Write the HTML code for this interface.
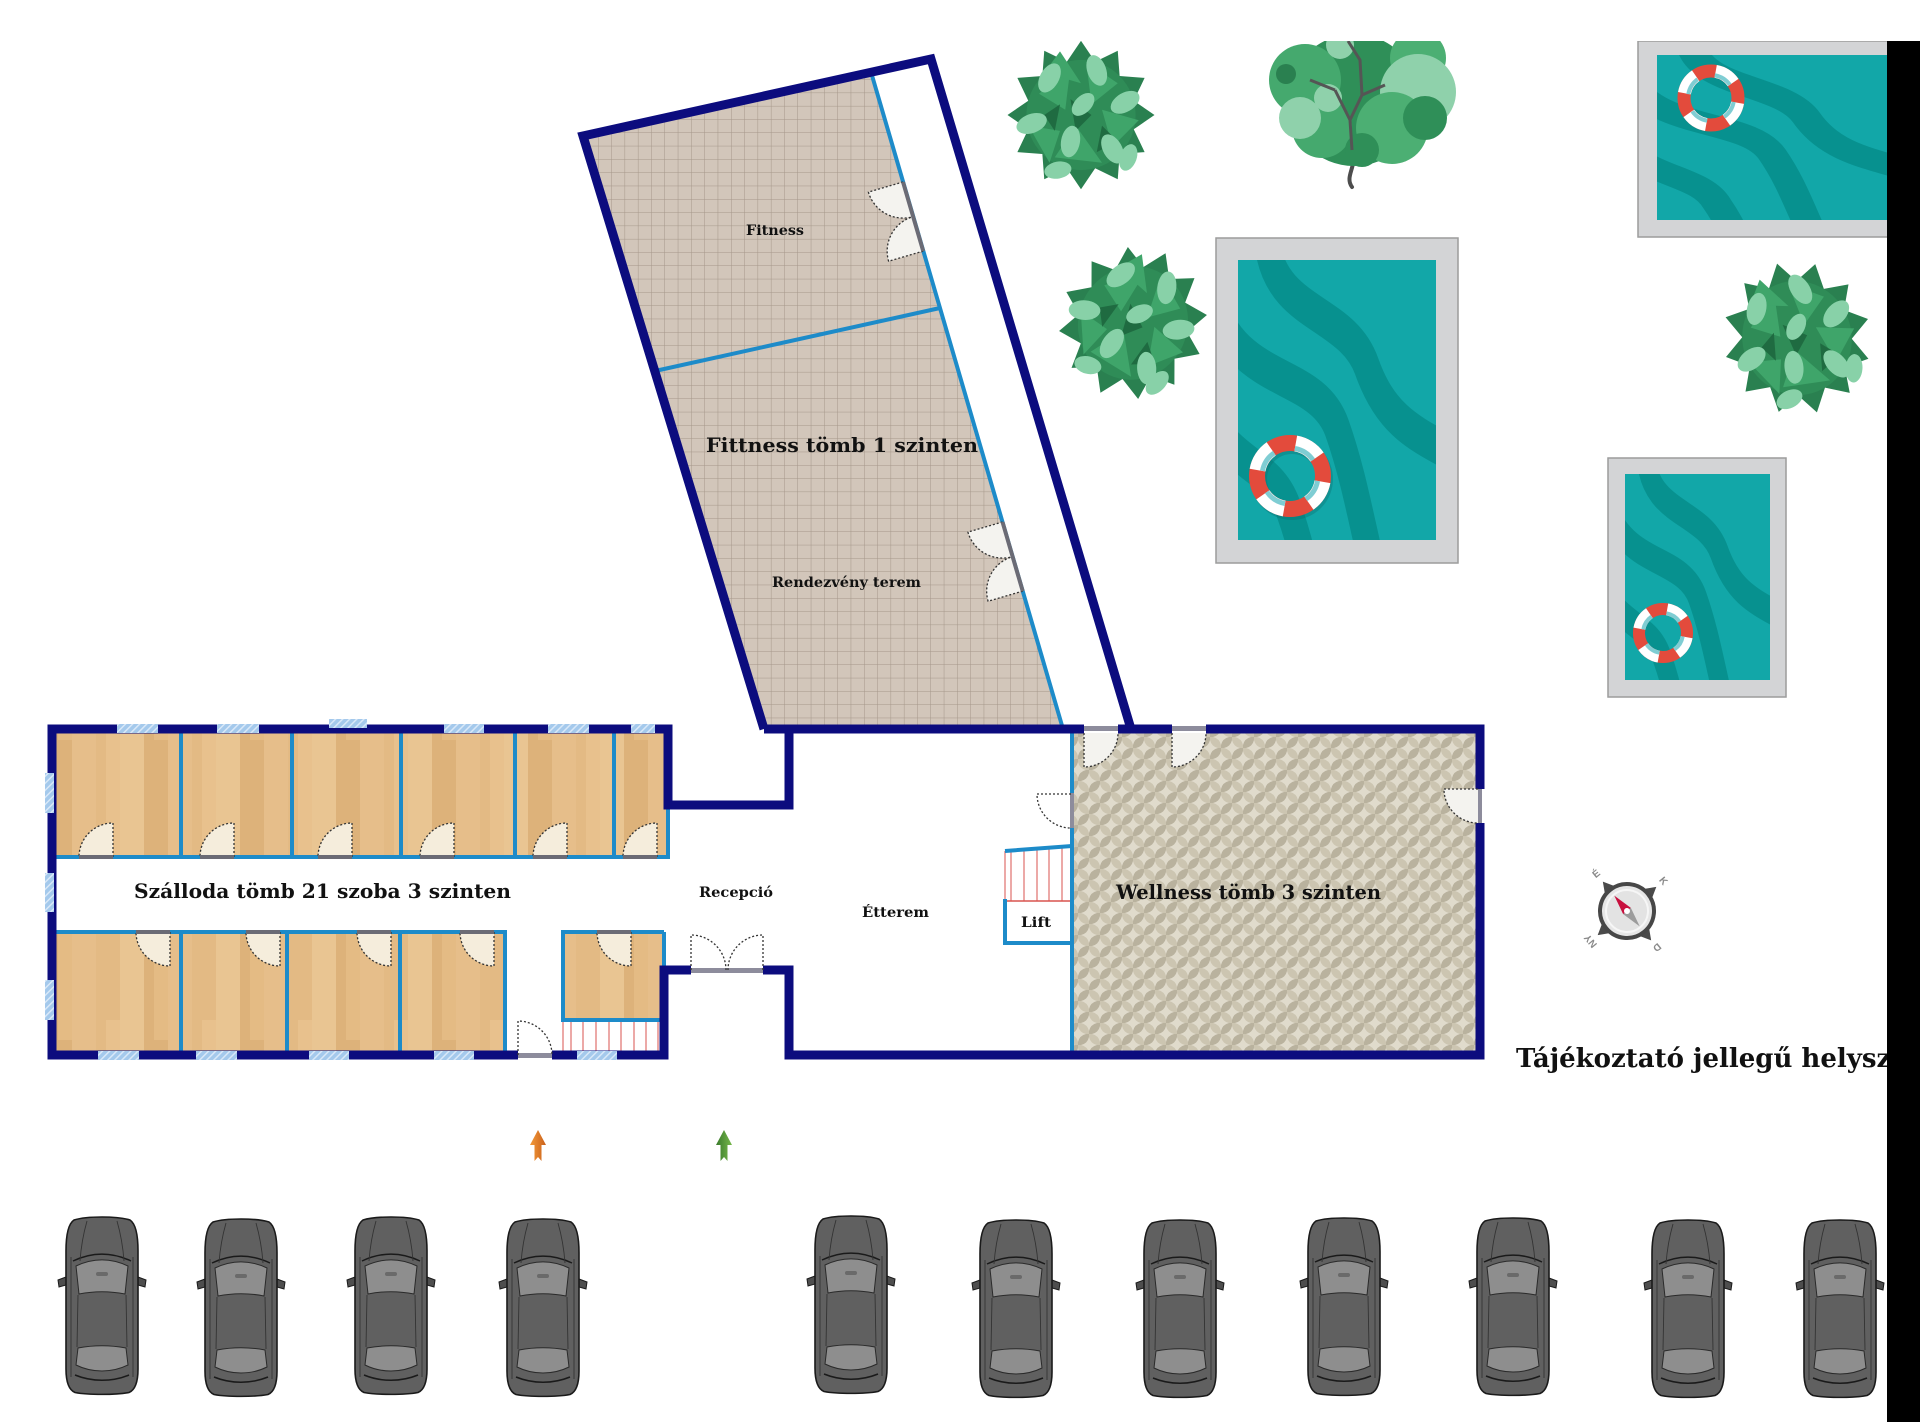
<!DOCTYPE html>
<html><head><meta charset="utf-8"><style>html,body{margin:0;padding:0;background:#fff;}svg{display:block;}</style></head>
<body>
<svg width="1920" height="1422" viewBox="0 0 1920 1422" xmlns="http://www.w3.org/2000/svg">
<defs>
<pattern id="tile" patternUnits="userSpaceOnUse" width="13.3" height="13.3"><rect width="13.3" height="13.3" fill="#d2c6ba"/><path d="M13.3,0 V13.3 H0" fill="none" stroke="#a5978a" stroke-width="1"/></pattern>
<pattern id="wood" patternUnits="userSpaceOnUse" width="96" height="300"><rect x="0" width="24" height="300" fill="#e3ba84"/><rect x="24" width="24" height="300" fill="#e9c592"/><rect x="48" width="24" height="300" fill="#ddb27a"/><rect x="72" width="24" height="300" fill="#e6be8a"/><rect x="10" y="120" width="14" height="180" fill="#e8c18d"/><rect x="58" y="0" width="14" height="140" fill="#e4bb84"/></pattern>
<pattern id="well" patternUnits="userSpaceOnUse" width="22" height="22"><rect width="22" height="22" fill="#ccc5b1"/><rect width="11" height="11" fill="#b9b29e"/><rect x="11" y="11" width="11" height="11" fill="#b9b29e"/><path d="M11,3 Q12.5,9.5 19,11 Q12.5,12.5 11,19 Q9.5,12.5 3,11 Q9.5,9.5 11,3Z" fill="#e0dbcc"/><path d="M0,-8 Q1.5,-1.5 8,0 Q1.5,1.5 0,8 Q-1.5,1.5 -8,0 Q-1.5,-1.5 0,-8Z" fill="#e0dbcc"/><path d="M22,-8 Q23.5,-1.5 30,0 Q23.5,1.5 22,8 Q20.5,1.5 14,0 Q20.5,-1.5 22,-8Z" fill="#e0dbcc"/><path d="M0,14 Q1.5,20.5 8,22 Q1.5,23.5 0,30 Q-1.5,23.5 -8,22 Q-1.5,20.5 0,14Z" fill="#e0dbcc"/><path d="M22,14 Q23.5,20.5 30,22 Q23.5,23.5 22,30 Q20.5,23.5 14,22 Q20.5,20.5 22,14Z" fill="#e0dbcc"/></pattern>
<pattern id="win" patternUnits="userSpaceOnUse" width="5" height="5" patternTransform="rotate(45)"><rect width="5" height="5" fill="#a4c9ec"/><rect width="1.5" height="5" fill="#d8e8f8"/></pattern>
<clipPath id="cp"><rect x="0" y="41" width="1887" height="1381"/></clipPath>
<clipPath id="wc"><rect x="0" y="0" width="100" height="100"/></clipPath>
<g id="waves" fill="none" stroke="#07918f" stroke-width="13">
<path d="M15,-5 C20,20 55,18 65,38 C75,58 90,62 110,70"/>
<path d="M-10,20 C5,45 40,40 50,60 C58,76 62,92 68,110"/>
<path d="M-10,62 C5,75 20,76 26,90 C30,98 32,104 34,110"/>
</g>
<g id="bush">
<polygon points="70,0 50.2,13.5 60.6,35 36.8,36.8 35,60.6 13.5,50.2 0,70 -13.5,50.2 -35,60.6 -36.8,36.8 -60.6,35 -50.2,13.5 -70,0 -50.2,-13.5 -60.6,-35 -36.8,-36.8 -35,-60.6 -13.5,-50.2 0,-70 13.5,-50.2 35,-60.6 36.8,-36.8 60.6,-35 50.2,-13.5" fill="#2a8050"/>
<circle r="52" fill="#2f8c57"/>
<g fill="#3fa56a"><polygon points="-40,-20 -10,-45 -15,-5"/><polygon points="5,-50 35,-30 10,-10"/><polygon points="20,-5 55,5 30,30"/><polygon points="-5,10 20,45 -25,40"/><polygon points="-50,10 -30,45 -20,15"/><polygon points="-20,-60 0,-30 -35,-40"/></g>
<g fill="#1f6b41"><polygon points="-10,-15 10,0 -5,15"/><polygon points="20,10 35,25 15,35"/><polygon points="-35,0 -20,-10 -25,15"/></g>
<g fill="#88d1a8"><ellipse cx="-30" cy="-35" rx="9" ry="15" transform="rotate(30 -30 -35)"/><ellipse cx="15" cy="-42" rx="9" ry="15" transform="rotate(-20 15 -42)"/><ellipse cx="42" cy="-12" rx="9" ry="15" transform="rotate(60 42 -12)"/><ellipse cx="30" cy="32" rx="9" ry="15" transform="rotate(-30 30 32)"/><ellipse cx="-10" cy="25" rx="9" ry="15" transform="rotate(10 -10 25)"/><ellipse cx="-47" cy="8" rx="9" ry="15" transform="rotate(70 -47 8)"/><ellipse cx="2" cy="-10" rx="8" ry="13" transform="rotate(45 2 -10)"/><ellipse cx="-22" cy="52" rx="8" ry="13" transform="rotate(80 -22 52)"/><ellipse cx="45" cy="40" rx="8" ry="13" transform="rotate(20 45 40)"/></g>
</g>
<g id="car">
<path d="M-36,60 L-44,63 L-43,70 L-36,68Z M36,60 L44,63 L43,70 L36,68Z" fill="#4e4e4e" stroke="#1b1b1b" stroke-width="1"/>
<path d="M-28,3 C-15,-1 15,-1 28,3 C34,7 36,18 36,34 L36,152 C36,166 33,173 27,175.5 C14,178 -14,178 -27,175.5 C-33,173 -36,166 -36,152 L-36,34 C-36,18 -34,7 -28,3Z" fill="#606060" stroke="#1a1a1a" stroke-width="1.6"/>
<path d="M-26,49 C-9,41 9,41 26,49 L23,77 C8,74 -8,74 -23,77Z" fill="#8e8e8e" stroke="#2a2a2a" stroke-width="1"/>
<path d="M-24,131 C-8,128 8,128 24,131 L26,148 C10,156 -10,156 -26,148Z" fill="#8e8e8e" stroke="#2a2a2a" stroke-width="1"/>
<path d="M-29,44 C-10,35 10,35 29,44" fill="none" stroke="#1a1a1a" stroke-width="1.5"/>
<path d="M-27,158 C-10,165 10,165 27,158" fill="none" stroke="#1a1a1a" stroke-width="1.5"/>
<path d="M-15,4 C-19,18 -21,30 -22,44 M15,4 C19,18 21,30 22,44 M-24,78 L-25,130 M24,78 L25,130 M-31,40 L-31,160 M31,40 L31,160" stroke="#333" stroke-width="0.9" fill="none"/>
<rect x="-6" y="55" width="12" height="4" rx="2" fill="#6a6a6a"/>
</g>
<linearGradient id="og" x1="0" x2="1"><stop offset="0" stop-color="#f39a3a"/><stop offset="1" stop-color="#c9601a"/></linearGradient>
<linearGradient id="gg" x1="0" x2="1"><stop offset="0" stop-color="#3a7a2c"/><stop offset="1" stop-color="#76b84a"/></linearGradient>
</defs>

<rect width="1920" height="1422" fill="#fff"/>
<g clip-path="url(#cp)">

<!-- trees -->
<use href="#bush" transform="translate(1081,115) scale(1.05,1.06)"/>
<use href="#bush" transform="translate(1133,323) rotate(25) scale(1.05,1.1)"/>
<use href="#bush" transform="translate(1797,338) rotate(-15) scale(1.05,1.1)"/>
<g>
<path d="M1352,187 C1344,176 1358,166 1352,150" stroke="#4d4d4d" stroke-width="4" fill="none" stroke-linecap="round"/>
<circle cx="1354" cy="100" r="66" fill="#2f8f58"/>
<circle cx="1305" cy="80" r="36" fill="#45a96e"/>
<circle cx="1418" cy="58" r="28" fill="#4caf73"/>
<circle cx="1418" cy="92" r="38" fill="#8fd1ab"/>
<circle cx="1322" cy="128" r="30" fill="#45a96e"/>
<circle cx="1392" cy="128" r="36" fill="#4caf73"/>
<circle cx="1300" cy="118" r="21" fill="#8fd1ab"/>
<circle cx="1425" cy="118" r="22" fill="#2f8f58"/>
<circle cx="1362" cy="150" r="17" fill="#2f8f58"/>
<circle cx="1328" cy="98" r="14" fill="#8fd1ab"/>
<circle cx="1286" cy="74" r="10" fill="#2a8050"/>
<circle cx="1340" cy="45" r="14" fill="#8fd1ab"/>
<path d="M1352,150 L1350,120 L1335,90 M1350,120 L1362,95 L1360,60 L1348,41 M1362,95 L1385,85 M1335,90 L1310,80" stroke="#555" stroke-width="3" fill="none"/>
</g>

<!-- pools -->
<rect x="1216" y="238" width="242" height="325" fill="#d3d4d6" stroke="#9c9c9c" stroke-width="1.5"/>
<g transform="translate(1238,260) scale(1.98,2.8)" clip-path="url(#wc)"><rect width="100" height="100" fill="#12a7a8"/><use href="#waves"/></g>
<rect x="1638" y="41" width="260" height="196" fill="#d3d4d6" stroke="#9c9c9c" stroke-width="1.5"/>
<g transform="translate(1657,55) scale(2.3,1.65)" clip-path="url(#wc)"><rect width="100" height="100" fill="#12a7a8"/><use href="#waves"/></g>
<rect x="1608" y="458" width="178" height="239" fill="#d3d4d6" stroke="#9c9c9c" stroke-width="1.5"/>
<g transform="translate(1625,474) scale(1.45,2.06)" clip-path="url(#wc)"><rect width="100" height="100" fill="#12a7a8"/><use href="#waves"/></g>

<!-- life rings -->
<g>
<circle cx="1292" cy="479" r="33" fill="none" stroke="#0b6e6e" stroke-opacity="0.35" stroke-width="16"/>
<circle cx="1290" cy="476" r="33" fill="none" stroke="#e34b3c" stroke-width="16"/>
<circle cx="1290" cy="476" r="33" fill="none" stroke="#fff" stroke-width="16" stroke-dasharray="25.9 25.9" transform="rotate(-80 1290 476)"/>
<circle cx="1290" cy="476" r="28" fill="none" stroke="#7fcdd3" stroke-width="5" stroke-dasharray="22 22" transform="rotate(-80 1290 476)"/>
<circle cx="1711" cy="98" r="27" fill="none" stroke="#e34b3c" stroke-width="13"/>
<circle cx="1711" cy="98" r="27" fill="none" stroke="#fff" stroke-width="13" stroke-dasharray="21.2 21.2" transform="rotate(-80 1711 98)"/>
<circle cx="1711" cy="98" r="23" fill="none" stroke="#7fcdd3" stroke-width="4" stroke-dasharray="18 18" transform="rotate(-80 1711 98)"/>
<circle cx="1663" cy="633" r="24" fill="none" stroke="#e34b3c" stroke-width="12"/>
<circle cx="1663" cy="633" r="24" fill="none" stroke="#fff" stroke-width="12" stroke-dasharray="18.85 18.85" transform="rotate(-80 1663 633)"/>
<circle cx="1663" cy="633" r="20" fill="none" stroke="#7fcdd3" stroke-width="4" stroke-dasharray="15.7 15.7" transform="rotate(-80 1663 633)"/>
</g>

<!-- floors -->
<polygon points="583,136 871,72 1063,729 764,729" fill="url(#tile)"/>
<rect x="52" y="729" width="616" height="130" fill="url(#wood)"/>
<rect x="52" y="932" width="453" height="123" fill="url(#wood)"/>
<rect x="563" y="932" width="101" height="88" fill="url(#wood)"/>
<rect x="1072" y="729" width="408" height="326" fill="url(#well)"/>

<!-- stairs -->
<g stroke="#d9534f" stroke-width="1">
<path d="M571,1020 V1052 M583,1020 V1052 M596,1020 V1052 M609,1020 V1052 M621,1020 V1052 M634,1020 V1052 M646,1020 V1052 M658,1020 V1052 M563,1020 V1052"/>
<path d="M1011,850 V901 M1024,849 V901 M1037,849 V901 M1049,848 V901 M1062,848 V901 M1005,851 V901"/>
<path d="M1005,901 H1071" stroke-width="1.5"/>
</g>

<!-- inner blue walls -->
<g stroke="#1d8bc9" stroke-width="4" fill="none">
<path d="M52,857 H668 M668,805 V859"/>
<path d="M181,729 V857 M292,729 V857 M401,729 V857 M515,729 V857 M614,729 V857"/>
<path d="M52,932 H505 V1055 M181,932 V1055 M287,932 V1055 M400,932 V1055"/>
<path d="M664,932 H563 V1020 H662 M664,932 V970"/>
<path d="M1072,729 V1055"/>
<path d="M871,72 L1063,729"/>
<path d="M655,371 L940,308"/>
<path d="M1005,851 L1072,846 M1005,899 V943 H1072"/>
</g>

<!-- navy walls -->
<g stroke="#0c0c7e" stroke-width="9" fill="none" stroke-linejoin="miter">
<path d="M764,729 H1480 V1055 H789 V970 H664 V1055 H52 V729 H668 V805 H789 V729"/>
<path d="M764,729 L583,136 L931,59 L1131,729"/>
</g>

<!-- windows -->
<g fill="url(#win)">
<rect x="117" y="724" width="41" height="9"/><rect x="217" y="724" width="42" height="9"/><rect x="329" y="719" width="38" height="9"/><rect x="444" y="724" width="40" height="9"/><rect x="548" y="724" width="41" height="9"/><rect x="631" y="724" width="24" height="9"/>
<rect x="45" y="773" width="9" height="40"/><rect x="45" y="873" width="9" height="39"/><rect x="45" y="980" width="9" height="40"/>
<rect x="98" y="1051" width="41" height="9"/><rect x="196" y="1051" width="41" height="9"/><rect x="309" y="1051" width="40" height="9"/><rect x="434" y="1051" width="40" height="9"/><rect x="577" y="1051" width="40" height="9"/>
</g>

<!-- wall openings -->
<g fill="#fff">
<rect x="518" y="1050" width="34" height="11"/>
<rect x="691" y="965" width="72" height="11"/>
<rect x="1084" y="723" width="34" height="11"/>
<rect x="1172" y="723" width="34" height="11"/>
<rect x="1475" y="789" width="11" height="34"/>
</g>
<g fill="#8d8c9c">
<rect x="518" y="1053" width="34" height="5"/>
<rect x="691" y="968" width="72" height="5"/>
<rect x="1084" y="726" width="34" height="5"/>
<rect x="1172" y="726" width="34" height="5"/>
<rect x="1477" y="789" width="5" height="34"/>
<rect x="1070" y="793" width="4" height="35"/>
</g>

<!-- doors -->
<g fill="#f5eddc">
<path d="M113,857 L113,823 A34,34 0 0 0 79,857Z"/><path d="M234,857 L234,823 A34,34 0 0 0 200,857Z"/><path d="M352,857 L352,823 A34,34 0 0 0 318,857Z"/><path d="M454,857 L454,823 A34,34 0 0 0 420,857Z"/><path d="M567,857 L567,823 A34,34 0 0 0 533,857Z"/><path d="M657,857 L657,823 A34,34 0 0 0 623,857Z"/>
<path d="M170,932 L170,966 A34,34 0 0 1 136,932Z"/><path d="M280,932 L280,966 A34,34 0 0 1 246,932Z"/><path d="M391,932 L391,966 A34,34 0 0 1 357,932Z"/><path d="M494,932 L494,966 A34,34 0 0 1 460,932Z"/><path d="M631,932 L631,966 A34,34 0 0 1 597,932Z"/>
</g>
<g fill="#f4f3ef">
<path d="M1084,733 L1084,767 A34,34 0 0 0 1118,733Z"/><path d="M1172,733 L1172,767 A34,34 0 0 0 1206,733Z"/>
<path d="M1478,789 L1444,789 A34,34 0 0 0 1478,823Z"/>
<path d="M903,182 L868.4,192.1 A36,36 0 0 0 913.1,216.6Z"/><path d="M923.2,251.1 L888.6,261.2 A36,36 0 0 1 913.1,216.6Z"/>
<path d="M1002.5,522 L967.9,532.1 A36,36 0 0 0 1012.6,556.6Z"/><path d="M1022.7,591.1 L988.1,601.2 A36,36 0 0 1 1012.6,556.6Z"/>
</g>
<g fill="none" stroke="#333" stroke-width="1.3" stroke-dasharray="2 2">
<path d="M113,857 L113,823 A34,34 0 0 0 79,857"/><path d="M234,857 L234,823 A34,34 0 0 0 200,857"/><path d="M352,857 L352,823 A34,34 0 0 0 318,857"/><path d="M454,857 L454,823 A34,34 0 0 0 420,857"/><path d="M567,857 L567,823 A34,34 0 0 0 533,857"/><path d="M657,857 L657,823 A34,34 0 0 0 623,857"/>
<path d="M170,932 L170,966 A34,34 0 0 1 136,932"/><path d="M280,932 L280,966 A34,34 0 0 1 246,932"/><path d="M391,932 L391,966 A34,34 0 0 1 357,932"/><path d="M494,932 L494,966 A34,34 0 0 1 460,932"/><path d="M631,932 L631,966 A34,34 0 0 1 597,932"/>
<path d="M1084,733 L1084,767 A34,34 0 0 0 1118,733"/><path d="M1172,733 L1172,767 A34,34 0 0 0 1206,733"/>
<path d="M1071,794 L1037,794 A34,34 0 0 0 1071,828"/>
<path d="M1478,789 L1444,789 A34,34 0 0 0 1478,823"/>
<path d="M518,1055 L518,1021 A34,34 0 0 1 552,1055"/>
<path d="M691,970 L691,935 A35,35 0 0 1 726,970"/><path d="M763,970 L763,935 A35,35 0 0 0 728,970"/>
<path d="M903,182 L868.4,192.1 A36,36 0 0 0 913.1,216.6"/><path d="M923.2,251.1 L888.6,261.2 A36,36 0 0 1 913.1,216.6"/>
<path d="M1002.5,522 L967.9,532.1 A36,36 0 0 0 1012.6,556.6"/><path d="M1022.7,591.1 L988.1,601.2 A36,36 0 0 1 1012.6,556.6"/>
</g>
<g stroke="#6b6b75" stroke-width="4">
<path d="M79,857 H113 M200,857 H234 M318,857 H352 M420,857 H454 M533,857 H567 M623,857 H657"/>
<path d="M136,932 H170 M246,932 H280 M357,932 H391 M460,932 H494 M597,932 H631"/>
<path d="M903,182 L923.2,251.1 M1002.5,522 L1022.7,591.1"/>
</g>

<!-- labels -->
<g font-family="'DejaVu Serif', 'Liberation Serif', serif" font-weight="bold" fill="#111">
<text x="134" y="898" font-size="20" textLength="377" lengthAdjust="spacingAndGlyphs">Szálloda tömb 21 szoba 3 szinten</text>
<text x="1116" y="899" font-size="20" textLength="265" lengthAdjust="spacingAndGlyphs">Wellness tömb 3 szinten</text>
<text x="706" y="452" font-size="20" textLength="272" lengthAdjust="spacingAndGlyphs">Fittness tömb 1 szinten</text>
<text x="746" y="235" font-size="14" textLength="58" lengthAdjust="spacingAndGlyphs">Fitness</text>
<text x="772" y="587" font-size="14" textLength="149" lengthAdjust="spacingAndGlyphs">Rendezvény terem</text>
<text x="699" y="897" font-size="14" textLength="74" lengthAdjust="spacingAndGlyphs">Recepció</text>
<text x="862" y="917" font-size="14" textLength="67" lengthAdjust="spacingAndGlyphs">Étterem</text>
<text x="1021" y="927" font-size="14" textLength="30" lengthAdjust="spacingAndGlyphs">Lift</text>
<text x="1516" y="1067" font-size="26">Tájékoztató jellegű helyszínrajz</text>
</g>

<!-- compass -->
<g transform="rotate(-39.5 1627 911)">
<g fill="#4a4a4a">
<polygon points="1627,873 1619,887 1635,887"/><polygon points="1665,911 1651,903 1651,919"/><polygon points="1627,949 1619,935 1635,935"/><polygon points="1589,911 1603,903 1603,919"/>
</g>
<circle cx="1627" cy="911" r="27" fill="#e6e6e6" stroke="#474747" stroke-width="4"/>
<circle cx="1627" cy="911" r="21" fill="#e3e3e3" stroke="#f6f6f6" stroke-width="2"/>
<polygon points="1627,891 1622,911 1632,911" fill="#c8103e"/>
<polygon points="1627,931 1622,911 1632,911" fill="#9c9c9c"/>
<circle cx="1627" cy="911" r="3" fill="#fff"/>
<g font-family="'Liberation Sans', sans-serif" font-weight="bold" font-size="10" fill="#8a8a8a" text-anchor="middle">
<text x="1627" y="866">É</text>
<text x="1674" y="914" transform="rotate(90 1674 911)">K</text>
<text x="1627" y="963" transform="rotate(180 1627 959)">D</text>
<text x="1580" y="914" transform="rotate(-90 1580 911)">NY</text>
</g>
</g>

<!-- arrows -->
<polygon points="538,1130 546,1145 541.5,1145 541.5,1161 538,1157 534.5,1161 534.5,1145 530,1145" fill="url(#og)"/>
<polygon points="724,1130 732,1145 727.5,1145 727.5,1161 724,1157 720.5,1161 720.5,1145 716,1145" fill="url(#gg)"/>

<!-- cars -->
<use href="#car" x="102" y="1217"/>
<use href="#car" x="241" y="1219"/>
<use href="#car" x="391" y="1217"/>
<use href="#car" x="543" y="1219"/>
<use href="#car" x="851" y="1216"/>
<use href="#car" x="1016" y="1220"/>
<use href="#car" x="1180" y="1220"/>
<use href="#car" x="1344" y="1218"/>
<use href="#car" x="1513" y="1218"/>
<use href="#car" x="1688" y="1220"/>
<use href="#car" x="1840" y="1220"/>
</g>

<rect x="1887" y="41" width="33" height="1381" fill="#000"/>
</svg>
</body></html>
